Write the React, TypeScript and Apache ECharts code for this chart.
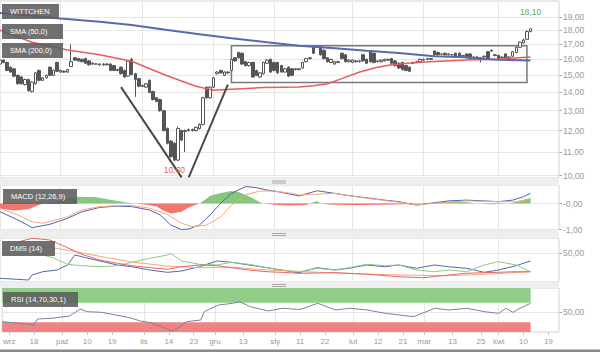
import React, { useEffect, useRef } from 'react';
import * as echarts from 'echarts';

// ---------- axis / category data ----------
const SESSION_COUNT = 158; // trading sessions on the time axis (incl. future slots)
const sessions: string[] = Array.from({ length: SESSION_COUNT }, (_, i) => String(i));
const xTickLabels: [number, string][] = [
  [2, 'wrz'], [9, '18'], [17, 'paź'], [24, '10'], [31, '19'], [40, 'lis'], [47, '14'], [54, '23'],
  [60, 'gru'], [68, '13'], [77, 'sty'], [84, '11'], [91, '22'], [99, 'lut'], [106, '12'], [113, '21'],
  [119, 'mar'], [127, '13'], [135, '25'], [140, 'kwi'], [147, '10'], [154, '19'],
];
const monthStarts = [17, 40, 60, 77, 99, 119, 140];
const priceTicks = [10, 11, 12, 13, 14, 15, 16, 17, 18, 19];
const macdTicks = [0, -1];
const macdTickLabels = ['-0,00', '-1,00'];
const dmsTicks = [50];
const rsiTicks = [50];

// ---------- price data: [open, close, low, high] ----------
const candles: number[][] = [
  [15.7, 15.95, 15.65, 16.05], [15.95, 15.8, 15.75, 16.0], [15.8, 15.3, 15.25, 15.85], [15.5, 15.2, 15.15, 15.55],
  [15.4, 14.95, 14.9, 15.45], [15.0, 14.5, 14.45, 15.05], [14.9, 14.5, 14.45, 14.95], [14.45, 14.75, 14.4, 14.8],
  [14.75, 14.1, 14.05, 14.8], [14.05, 14.6, 14.0, 14.65], [14.5, 15.15, 14.45, 15.2], [15.3, 14.7, 14.65, 15.35],
  [14.7, 14.85, 14.65, 14.9], [14.85, 15.0, 14.8, 15.05], [15.5, 15.0, 14.95, 15.55], [15.0, 15.3, 14.95, 15.35],
  [15.8, 15.25, 15.2, 15.85], [15.2, 15.3, 15.15, 15.35], [15.25, 15.2, 15.15, 15.3], [15.2, 15.35, 15.15, 15.4],
  [15.55, 15.85, 15.5, 17.0], [16.1, 15.95, 15.9, 16.15], [16.05, 15.9, 15.85, 16.1], [16.0, 15.85, 15.8, 16.05],
  [16.05, 15.75, 15.7, 16.1], [15.9, 15.65, 15.6, 15.95], [15.7, 15.75, 15.65, 15.8], [15.7, 15.7, 15.65, 15.75],
  [15.65, 15.7, 15.6, 15.75], [15.65, 15.7, 15.6, 15.75], [15.7, 15.65, 15.6, 15.75], [15.7, 15.3, 15.25, 15.75],
  [15.6, 15.3, 15.25, 15.65], [15.35, 15.3, 15.25, 15.4], [15.5, 15.1, 15.05, 15.55], [15.3, 14.9, 14.85, 15.35],
  [14.95, 15.9, 14.9, 15.95], [16.0, 15.05, 15.0, 16.1], [15.1, 14.75, 13.75, 15.15], [14.8, 14.35, 14.3, 14.85],
  [14.4, 14.35, 14.3, 14.45], [14.3, 14.5, 14.25, 14.55], [14.7, 14.0, 13.95, 14.75], [14.05, 13.6, 13.55, 14.1],
  [13.7, 13.5, 13.45, 13.75], [13.6, 13.0, 12.95, 13.65], [13.0, 12.0, 11.95, 13.05], [12.1, 11.4, 11.35, 12.15],
  [11.5, 10.8, 10.75, 11.55], [11.4, 10.65, 10.6, 11.45], [10.65, 12.1, 10.6, 12.2], [12.0, 11.55, 11.5, 12.05],
  [11.95, 12.0, 11.0, 12.05], [12.0, 12.05, 11.95, 12.1], [12.05, 12.0, 11.95, 12.1], [12.0, 12.15, 11.95, 12.2],
  [12.1, 12.3, 12.05, 12.35], [12.3, 13.7, 12.25, 13.75], [14.3, 13.7, 13.65, 14.35], [13.7, 14.3, 13.65, 14.35],
  [14.3, 14.85, 14.25, 14.9], [15.1, 15.2, 15.05, 15.25], [15.3, 15.15, 15.1, 15.35], [15.0, 15.2, 14.95, 15.25],
  [15.2, 15.15, 15.1, 15.25], [15.3, 16.0, 15.25, 16.05], [16.1, 15.9, 15.85, 16.15], [16.45, 16.1, 16.05, 16.5],
  [16.4, 15.7, 15.65, 16.45], [15.85, 15.6, 15.55, 15.9], [15.6, 15.8, 15.55, 15.85], [15.8, 14.9, 14.85, 15.85],
  [15.3, 15.0, 14.95, 15.35], [14.9, 15.15, 14.85, 15.2], [15.1, 15.8, 15.05, 15.85], [15.75, 15.95, 15.7, 16.0],
  [16.0, 15.2, 15.15, 16.05], [15.8, 15.3, 15.25, 15.85], [15.8, 15.15, 15.1, 15.85], [15.6, 15.2, 15.15, 15.65],
  [15.2, 15.4, 15.15, 15.45], [15.5, 14.95, 14.9, 15.55], [15.4, 15.0, 14.95, 15.45], [15.4, 15.35, 15.3, 15.45],
  [15.35, 15.4, 15.3, 15.45], [15.45, 15.8, 15.4, 15.85], [15.85, 16.05, 15.8, 16.1], [16.05, 16.1, 16.0, 16.15],
  [16.8, 16.4, 16.35, 16.85], [16.85, 16.8, 16.75, 16.9], [16.85, 16.3, 16.25, 16.9], [16.6, 16.05, 16.0, 16.65],
  [16.1, 15.85, 15.8, 16.15], [15.8, 16.0, 15.75, 16.05], [15.7, 15.85, 15.65, 15.9], [15.85, 15.8, 15.75, 15.9],
  [16.4, 16.05, 16.0, 16.45], [16.3, 15.85, 15.8, 16.35], [15.85, 15.95, 15.8, 16.0], [15.8, 15.95, 15.75, 16.0],
  [15.9, 15.85, 15.8, 15.95], [15.85, 15.9, 15.8, 15.95], [16.3, 15.9, 15.85, 16.35], [16.0, 15.75, 15.7, 16.05],
  [16.5, 15.85, 15.8, 16.55], [16.4, 15.8, 15.75, 16.45], [15.85, 15.9, 15.8, 15.95], [15.85, 15.95, 15.8, 16.0],
  [15.9, 16.0, 15.85, 16.05], [16.0, 15.95, 15.9, 16.05], [16.05, 15.75, 15.7, 16.1], [15.9, 15.6, 15.55, 15.95],
  [15.75, 15.45, 15.4, 15.8], [15.8, 15.35, 15.3, 15.85], [15.6, 15.3, 15.25, 15.65], [15.5, 15.25, 15.2, 15.55],
  [15.75, 15.8, 15.7, 15.85], [15.8, 15.85, 15.75, 15.9], [15.85, 16.0, 15.8, 16.05], [15.95, 16.0, 15.9, 16.05],
  [16.0, 16.05, 15.95, 16.1], [16.05, 16.0, 15.95, 16.1], [16.55, 16.3, 16.25, 16.6], [16.45, 16.3, 16.25, 16.5],
  [16.35, 16.35, 16.3, 16.4], [16.4, 16.3, 16.25, 16.45], [16.3, 16.35, 16.25, 16.4], [16.3, 16.3, 16.25, 16.35],
  [16.4, 16.2, 16.15, 16.45], [16.4, 16.15, 16.1, 16.45], [16.2, 16.25, 16.15, 16.3], [16.35, 16.1, 16.05, 16.4],
  [16.35, 16.05, 16.0, 16.4], [16.1, 16.15, 16.05, 16.2], [16.15, 16.1, 16.05, 16.2], [16.1, 16.1, 15.8, 16.15],
  [16.15, 16.2, 16.1, 16.25], [16.5, 16.05, 16.0, 16.55], [16.55, 16.6, 16.5, 16.65], [16.3, 16.25, 16.2, 16.35],
  [16.25, 16.05, 16.0, 16.3], [16.1, 16.15, 16.05, 16.2], [16.35, 16.1, 16.05, 16.4], [16.1, 16.15, 16.05, 16.2],
  [16.2, 16.5, 16.15, 16.55], [16.45, 16.8, 16.4, 16.85], [16.8, 17.15, 16.75, 17.2], [17.1, 17.3, 17.05, 17.4],
  [17.35, 17.9, 17.3, 18.0], [17.9, 18.1, 17.85, 18.1],
];

// moving averages, read at sampled sessions: [session, value]
const sma50: number[][] = [
  [0, 18.0], [9, 17.15], [19, 16.62], [28, 16.3], [37, 15.88], [46, 15.05], [55, 14.35], [60, 14.12],
  [65, 14.18], [74, 14.28], [84, 14.31], [88, 14.38], [92, 14.5], [96, 14.8], [101, 15.2], [106, 15.5],
  [110, 15.66], [116, 15.78], [122, 15.86], [131, 15.96], [140, 16.0], [149, 16.16],
];
const sma200: number[][] = [
  [0, 19.29], [17, 18.88], [28, 18.63], [37, 18.38], [47, 18.01], [56, 17.7], [65, 17.42], [75, 17.14],
  [84, 16.91], [94, 16.73], [103, 16.57], [112, 16.42], [122, 16.2], [131, 16.13], [136, 16.03], [140, 15.97], [149, 15.92],
];

// annotations
const trendLines: number[][][] = [
  [[34, 14.3], [51, 9.93]],
  [[53, 9.93], [64, 14.45]],
];
const boxCorners: number[][] = [[65, 16.91], [148, 14.57]];
const lastClose = { session: 149, value: 18.1, text: '18,10' };
const minLow = { session: 49, value: 10.6, text: '10,60' };

// MACD (12,26,9)
const macdLine: number[][] = [
  [0, -0.32], [5, -0.63], [9, -0.93], [14, -0.8], [19, -0.57], [23, -0.32], [28, -0.15], [33, -0.1],
  [37, -0.12], [42, -0.25], [45, -0.44], [48, -0.83], [51, -1.0], [53, -0.98], [56, -0.83], [59, -0.44],
  [62, 0.01], [65, 0.39], [69, 0.65], [72, 0.61], [75, 0.52], [79, 0.43], [84, 0.29], [89, 0.49],
  [94, 0.39], [98, 0.3], [103, 0.22], [108, 0.13], [112, 0.07], [117, -0.06], [122, 0.03], [126, 0.1],
  [131, 0.13], [136, 0.1], [140, 0.07], [144, 0.13], [147, 0.26], [149, 0.39],
];
const macdSignal: number[][] = [
  [0, -0.18], [5, -0.44], [9, -0.7], [12, -0.76], [19, -0.51], [23, -0.25], [28, -0.12], [33, -0.08],
  [37, -0.08], [42, -0.18], [47, -0.42], [51, -0.76], [54, -0.89], [58, -0.83], [62, -0.51], [65, -0.06],
  [69, 0.33], [73, 0.48], [77, 0.48], [82, 0.39], [84, 0.33], [94, 0.39], [103, 0.2], [112, 0.05],
  [117, -0.06], [122, 0.01], [131, 0.1], [140, 0.07], [145, 0.07], [149, 0.17],
];
const macdHistUp: number[][] = [
  [0, 0], [13, 0], [18, 0.15], [22, 0.26], [27, 0.24], [31, 0.14], [35, 0.05], [38, 0],
  [56, 0], [58, 0.18], [59, 0.3], [62, 0.4], [65, 0.48], [67, 0.44], [69, 0.33], [71, 0.2], [73, 0.05], [74, 0],
  [87, 0], [89, 0.1], [90, 0], [120, 0], [123, 0.05], [127, 0.08], [131, 0.05], [134, 0],
  [143, 0], [145, 0.06], [147, 0.13], [149, 0.21],
];
const macdHistDown: number[][] = [
  [0, -0.2], [4, -0.27], [8, -0.22], [12, 0], [38, 0], [41, -0.05], [44, -0.12], [46, -0.28], [48, -0.38],
  [51, -0.32], [53, -0.15], [56, 0], [74, 0], [77, -0.05], [81, -0.08], [86, -0.06], [87, 0],
  [90, 0], [93, -0.05], [100, -0.06], [108, -0.05], [112, -0.04], [120, 0], [134, 0], [138, -0.03], [143, 0], [149, 0],
];

// DMS (14)
const dmsPlus: number[][] = [
  [0, 6.5], [8, 3.5], [9, 12.3], [12, 18], [16, 21], [19, 29.8], [21, 47.3], [23, 44.3], [28, 36.8],
  [33, 29.8], [37, 26.8], [42, 21], [47, 17], [51, 19.3], [56, 26.8], [61, 36.8], [65, 34.5], [70, 29.8],
  [75, 25.1], [79, 21], [84, 16.3], [89, 25.1], [94, 21], [98, 24], [103, 29.8], [108, 26.8], [112, 29.8],
  [117, 24], [122, 29.8], [126, 26.8], [131, 24], [136, 17], [140, 21], [145, 28.6], [149, 36.8],
];
const dmsMinus: number[][] = [
  [9, 53], [15, 42.1], [19, 31], [23, 28.6], [28, 26.8], [33, 28.6], [37, 34.5], [42, 41.5], [47, 47.3],
  [48, 50.3], [51, 36.8], [56, 31], [61, 29.8], [65, 34.5], [70, 31], [75, 25.1], [79, 21], [84, 18],
  [89, 24], [94, 21], [98, 25.1], [103, 31], [108, 28.6], [112, 29.8], [117, 21], [122, 18], [126, 21],
  [131, 18], [136, 29.8], [140, 35.6], [145, 29.8], [149, 18],
];
const dmsAdx: number[][] = [
  [5, 70], [9, 76.6], [14, 73.6], [19, 60.1], [23, 48.5], [28, 38.5], [33, 32.8], [37, 28.6], [42, 25.1],
  [47, 22.3], [51, 26.8], [56, 29.8], [61, 28.6], [65, 25.1], [70, 21], [75, 18], [79, 17], [84, 15.2],
  [94, 16.3], [103, 13.5], [112, 9.3], [119, 7.5], [126, 12.3], [131, 15.2], [136, 16.3], [140, 17], [145, 18], [149, 18],
];
const dmsAdxr: number[][] = [
  [9, 65], [19, 56], [28, 45], [37, 35], [47, 28], [56, 25], [65, 26], [75, 21], [84, 18.5], [94, 16],
  [103, 14], [112, 12.3], [126, 11], [136, 13.5], [149, 18],
];

// RSI (14,70,30,1)
const rsi: number[][] = [
  [0, 31.1], [5, 27.8], [9, 24.3], [10, 36.6], [14, 38], [19, 42.7], [22, 57], [24, 51.5], [28, 50.3],
  [32, 44.8], [36, 39.2], [39, 32.5], [42, 29], [45, 20.8], [48, 12], [50, 20.8], [52, 31.1], [56, 34.5],
  [57, 51.5], [61, 65.2], [65, 68.7], [67, 72], [70, 61.7], [75, 53], [79, 58.5], [84, 56], [89, 68.7],
  [94, 55], [98, 58.5], [103, 55], [108, 48.2], [112, 44.8], [116, 41.3], [122, 58.5], [126, 55],
  [131, 58.5], [136, 51.5], [140, 48.2], [142, 58.5], [144, 50.3], [146, 58.5], [149, 68.7],
];
const rsiBands = { overbought: 70, oversold: 30 };

// ---------- styling ----------
const FONT = 'Liberation Sans, Arial, sans-serif';
const AXIS_TEXT = '#9a9a9a';
const GRID_LINE = '#e6e6e6';
const fmtPl = (v: number) => v.toFixed(2).replace('.', ',');
const labelMap = new Map<number, string>(xTickLabels);
const isLabelIdx = (i: number) => labelMap.has(i);
const isMonthIdx = (i: number) => monthStarts.includes(i);

function buildOption(): any {
  const grids = [
    { top: 1, height: 177 },
    { top: 185, height: 45 },
    { top: 238, height: 44 },
    { top: 288, height: 44 },
  ].map((g) => ({
    ...g, left: 0, right: 41, show: true, backgroundColor: '#fff', borderColor: '#d4d4d4', borderWidth: 1,
  }));

  const xAxes = grids.map((_, g) => ({
    type: 'category', gridIndex: g, data: sessions, boundaryGap: false,
    axisLine: { show: false },
    axisTick: g === 3 ? { show: true, interval: isLabelIdx, length: 3, lineStyle: { color: '#c4c4c4' } } : { show: false },
    axisLabel: g === 3
      ? { show: true, interval: isLabelIdx, formatter: (_v: string, i: number) => labelMap.get(i) ?? '', color: AXIS_TEXT, fontSize: 8, margin: 5, fontFamily: FONT }
      : { show: false },
    splitLine: { show: true, interval: isMonthIdx, lineStyle: { color: GRID_LINE, width: 1 } },
  }));

  const yCommon = {
    position: 'right',
    axisLine: { show: false },
    splitLine: { show: true, lineStyle: { color: GRID_LINE, width: 1 } },
  };
  const yAxes = [
    {
      ...yCommon, type: 'log', logBase: 10, gridIndex: 0, min: 9.907, max: 20.254,
      axisTick: { show: true, customValues: priceTicks, length: 3, lineStyle: { color: '#aaa' } },
      axisLabel: { customValues: priceTicks, formatter: (v: number) => fmtPl(v), color: AXIS_TEXT, fontSize: 8.5, margin: 4, fontFamily: FONT },
    },
    {
      ...yCommon, type: 'value', gridIndex: 1, min: -1.019, max: 0.7115,
      axisTick: { show: true, customValues: macdTicks, length: 3, lineStyle: { color: '#aaa' } },
      axisLabel: {
        customValues: macdTicks,
        formatter: (v: number) => macdTickLabels[macdTicks.findIndex((t) => Math.abs(t - v) < 1e-6)] ?? fmtPl(v),
        color: AXIS_TEXT, fontSize: 8.5, margin: 4, fontFamily: FONT,
      },
    },
    {
      ...yCommon, type: 'value', gridIndex: 2, min: 0, max: 77.1,
      axisTick: { show: true, customValues: dmsTicks, length: 3, lineStyle: { color: '#aaa' } },
      axisLabel: { customValues: dmsTicks, formatter: (v: number) => fmtPl(v), color: AXIS_TEXT, fontSize: 8.5, margin: 4, fontFamily: FONT },
    },
    {
      ...yCommon, type: 'value', gridIndex: 3, min: 10, max: 100,
      axisTick: { show: true, customValues: rsiTicks, length: 3, lineStyle: { color: '#aaa' } },
      axisLabel: { customValues: rsiTicks, formatter: (v: number) => fmtPl(v), color: AXIS_TEXT, fontSize: 8.5, margin: 4, fontFamily: FONT },
    },
  ];

  const line = (name: string, data: number[][], axis: number, color: string, width: number, z = 3) => ({
    name, type: 'line', data, xAxisIndex: axis, yAxisIndex: axis, showSymbol: false, symbol: 'none',
    lineStyle: { color, width }, itemStyle: { color }, z, silent: true,
  });
  const area = (name: string, data: number[][], color: string) => ({
    name, type: 'line', data, xAxisIndex: 1, yAxisIndex: 1, showSymbol: false, symbol: 'none',
    lineStyle: { width: 0, color }, areaStyle: { color, opacity: 1, origin: 0 }, z: 1, silent: true,
  });

  const series: any[] = [
    {
      name: 'WITTCHEN', type: 'candlestick', xAxisIndex: 0, yAxisIndex: 0, data: candles, barWidth: 3, z: 2,
      itemStyle: { color: '#ffffff', color0: '#555555', borderColor: '#555555', borderColor0: '#555555', borderWidth: 1 },
      markLine: {
        silent: true, symbol: ['none', 'none'], label: { show: false },
        lineStyle: { color: '#4a4a4a', width: 2, type: 'solid' },
        data: trendLines.map(([a, b]) => [{ coord: a }, { coord: b }]),
      },
      markArea: {
        silent: true,
        itemStyle: { color: 'rgba(0,0,0,0)', borderColor: '#7a7a7a', borderWidth: 1.5 },
        data: [[{ coord: boxCorners[0] }, { coord: boxCorners[1] }]],
      },
      markPoint: {
        silent: true, symbol: 'circle', symbolSize: 0,
        data: [
          {
            name: lastClose.text, coord: [lastClose.session, lastClose.value],
            label: { show: true, position: 'top', distance: 12, formatter: '{b}', color: '#5faa5f', fontSize: 8.5, fontFamily: FONT },
          },
          {
            name: minLow.text, coord: [minLow.session, minLow.value],
            label: { show: true, position: 'bottom', distance: 4, formatter: '{b}', color: '#e06464', fontSize: 8.5, fontFamily: FONT },
          },
        ],
      },
    },
    line('SMA (50,0)', sma50, 0, '#e85b5e', 1.5),
    line('SMA (200,0)', sma200, 0, '#5a69ad', 2),
    area('MACD up', macdHistUp, '#86c77e'),
    area('MACD down', macdHistDown, '#f27670'),
    line('MACD', macdLine, 1, '#4f63ad', 1),
    line('Signal', macdSignal, 1, '#f3a77a', 1),
    line('+DI', dmsPlus, 2, '#5268ad', 1),
    line('-DI', dmsMinus, 2, '#8acb84', 1),
    line('ADXR', dmsAdxr, 2, '#f5a878', 1),
    line('ADX', dmsAdx, 2, '#e86466', 1),
    {
      ...line('RSI', rsi, 3, '#7583a3', 1),
      markArea: {
        silent: true,
        data: [
          [{ coord: [0, rsiBands.overbought], itemStyle: { color: '#8fcd88' } }, { coord: [149, 100] }],
          [{ coord: [0, 10], itemStyle: { color: '#f28383' } }, { coord: [149, rsiBands.oversold] }],
        ],
      },
    },
  ];

  const TOP = 100;
  const tag = (x: number, y: number, w: number, text: string) => ({
    type: 'group', x, y, silent: true, z: TOP,
    children: [
      { type: 'rect', z: TOP, shape: { x: 0, y: 0, width: w, height: 15 }, style: { fill: 'rgba(92,92,92,0.88)' } },
      { type: 'text', z: TOP + 1, x: 8, y: 7.5, style: { text, fill: '#ffffff', font: `7.5px ${FONT}`, verticalAlign: 'middle', textAlign: 'left' } },
    ],
  });
  const handle = (y: number) => ({
    type: 'group', x: 272, y, silent: true, z: TOP,
    children: [
      { type: 'rect', z: TOP, shape: { x: 0, y: 0, width: 14, height: 1 }, style: { fill: '#a8a8a8' } },
      { type: 'rect', z: TOP, shape: { x: 0, y: 2, width: 14, height: 1 }, style: { fill: '#a8a8a8' } },
    ],
  });

  const graphic = [
    { type: 'rect', silent: true, shape: { x: 0, y: 178, width: 559, height: 7 }, style: { fill: '#eeeeee' } },
    { type: 'rect', silent: true, shape: { x: 0, y: 230, width: 559, height: 8 }, style: { fill: '#eeeeee' } },
    { type: 'rect', silent: true, shape: { x: 0, y: 282, width: 559, height: 6 }, style: { fill: '#eeeeee' } },
    { type: 'rect', silent: true, z: TOP, shape: { x: 0, y: 349.5, width: 600, height: 2.5 }, style: { fill: '#8a8a8a' } },
    handle(180.5), handle(233), handle(284),
    tag(2, 4, 57, 'WITTCHEN'),
    tag(2, 24, 61, 'SMA (50,0)'),
    tag(2, 43, 61, 'SMA (200,0)'),
    tag(3, 189, 74, 'MACD (12,26,9)'),
    tag(2, 241, 53, 'DMS (14)'),
    tag(3, 292, 75, 'RSI (14,70,30,1)'),
  ];

  return {
    animation: false,
    backgroundColor: '#ffffff',
    textStyle: { fontFamily: FONT },
    grid: grids,
    xAxis: xAxes,
    yAxis: yAxes,
    series,
    graphic: { elements: graphic },
  };
}

export default function App() {
  const ref = useRef<HTMLDivElement>(null);
  useEffect(() => {
    if (!ref.current) return;
    const chart = echarts.init(ref.current, null, { renderer: 'svg' });
    chart.setOption(buildOption());
    return () => chart.dispose();
  }, []);
  return (
    <div
      ref={ref}
      style={{ position: 'fixed', left: 0, top: 0, width: 600, height: 352, background: '#fff' }}
    />
  );
}
